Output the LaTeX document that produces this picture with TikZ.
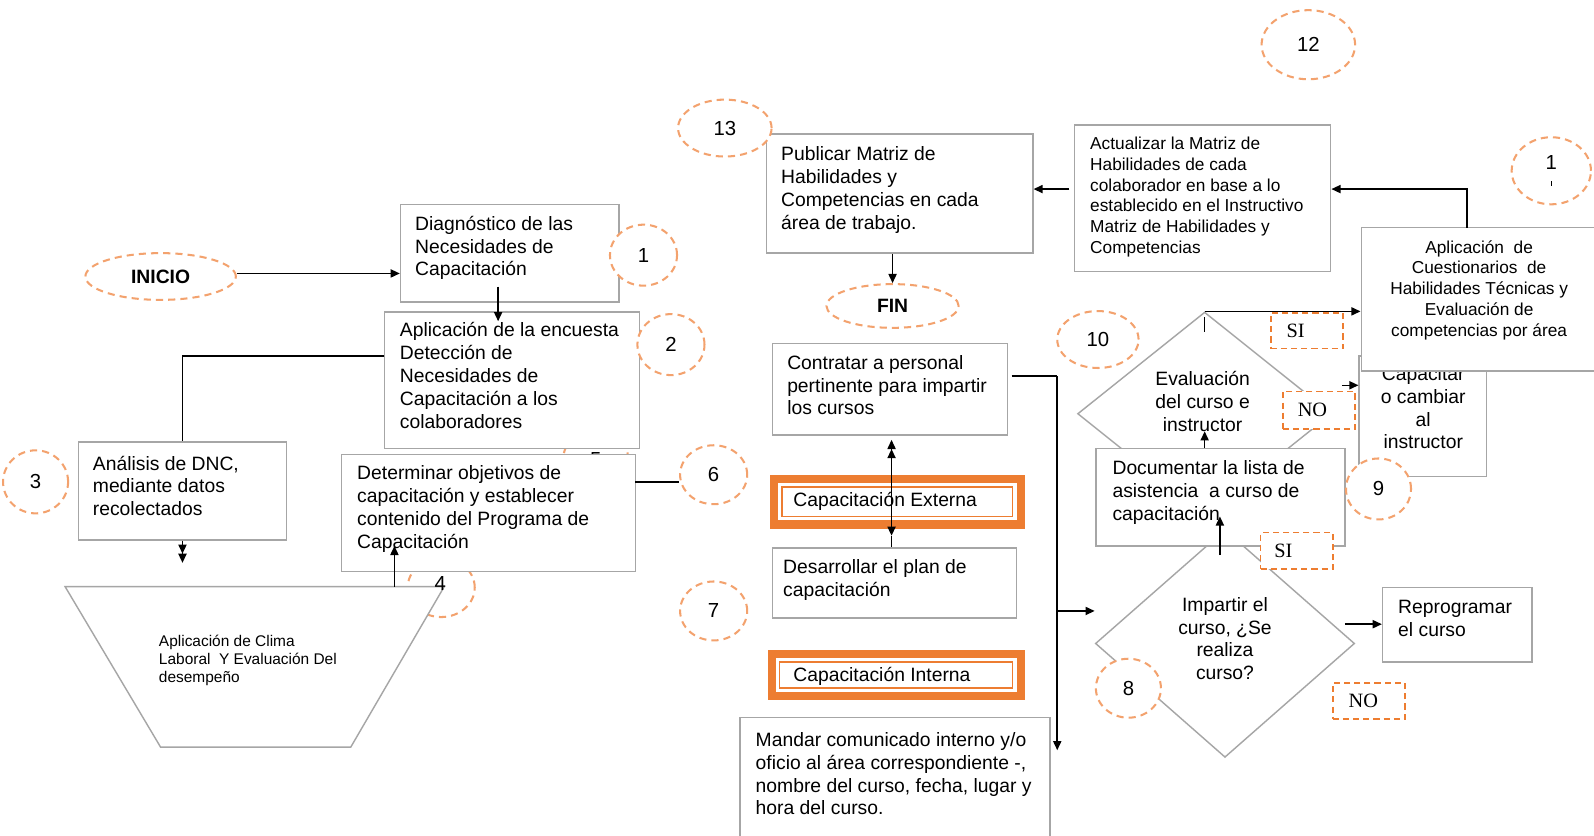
\documentclass[tikz,border=0pt]{standalone}
\usepackage{fontspec}
\setmainfont{Liberation Sans}
\newfontfamily\serifSN{Liberation Serif}
\usetikzlibrary{arrows.meta,shapes.geometric,fit}
\definecolor{borde}{HTML}{A6A6A6}
\definecolor{naranja}{HTML}{ED7D31}
\definecolor{naranjac}{HTML}{F3A26E}
\newcommand\fMain{\fontsize{9.5}{11.25}\selectfont}
\newcommand\fSmall{\fontsize{8.5}{10.3}\selectfont}
\newcommand\fTiny{\fontsize{7.6}{9}\selectfont}
\newcommand\fNum{\fontsize{10}{11}\selectfont}
\tikzset{
  pbox/.style={draw=borde, line width=0.7pt, fill=white, inner sep=0pt},
  txt/.style={align=left, inner sep=0pt, anchor=north west, font=\fMain, execute at begin node=\strut, yshift=-7pt},
  ctxt/.style={txt, align=center, anchor=north},
  stxt/.style={font=\fMain, inner sep=0pt, anchor=west},
  ring/.style={ellipse, draw=naranjac, line width=1pt, dash pattern=on 3.5pt off 2.5pt, fill=white, inner sep=0pt, font=\fNum},
  sino/.style={draw=naranja, line width=0.8pt, dash pattern=on 3pt off 2pt, fill=white, inner sep=0pt},
  lbl/.style={font=\serifSN\fontsize{10}{11}\selectfont, inner sep=0pt, anchor=west},
  arr/.style={black, line width=0.75pt, -{Triangle[length=4.5pt,width=4pt]}},
  ln/.style={black, line width=0.75pt},
  dia/.style={diamond, draw=borde, line width=0.7pt, fill=white, inner sep=0pt},
  ext/.style={draw=naranja, line width=4pt, fill=white, inner sep=0pt},
  extin/.style={draw=naranja, line width=0.75pt, inner sep=0pt},
}
\begin{document}
\begin{tikzpicture}[x=0.5pt,y=-0.5pt]
\useasboundingbox (0,0) rectangle (1568,822);
\fill[white] (0,0) rectangle (1568,822);

% circles partly hidden behind boxes
\node[ring, minimum width=33pt, minimum height=29pt] (c4) at (434,578) {};
\node[ring, minimum width=32pt, minimum height=30pt] (c5) at (586,452) {5};

% trapezoid
\draw[borde, line width=0.7pt, fill=white] (64,577) -- (437,577) -- (345,735) -- (158,735) -- cycle;
\coordinate (trap) at (388,577);
\node[txt, font=\fTiny] (ttrap) at (156,610) {Aplicación de Clima\\Laboral\ \ Y Evaluación Del\\desempeño};

% left boxes
\node[pbox, fit={(394,201) (609,297)}] (diag) {};
\node[txt] (tdiag) at (408,198) {Diagnóstico de las\\Necesidades de\\Capacitación};
\node[pbox, fit={(378,307) (629,441)}] (encuesta) {};
\node[txt] (tenc) at (393,303) {Aplicación de la encuesta\\Detección de\\Necesidades de\\Capacitación a los\\colaboradores};
\node[pbox, fit={(77,435) (282,531)}] (analisis) {};
\node[txt] (tana) at (91,434) {Análisis de DNC,\\mediante datos\\recolectados};
\node[pbox, fit={(336,447) (625,562)}] (determinar) {};
\node[txt] (tdet) at (351,444) {Determinar objetivos de\\capacitación y establecer\\contenido del Programa de\\Capacitación};
\node[font=\fNum, inner sep=0pt] (n4) at (433,574) {4};

% middle boxes
\node[pbox, fit={(754,132) (1016,249)}] (publicar) {};
\node[txt] (tpub) at (768,130) {Publicar Matriz de\\Habilidades y\\Competencias en cada\\área de trabajo.};
\node[pbox, fit={(760,338) (991,428)}] (contratar) {};
\node[txt] (tcon) at (774,335) {Contratar a personal\\pertinente para impartir\\los cursos};
\node[ext, fit={(761,471) (1004,516)}] (externa) {};
\node[extin, fit={(769,479) (996,508)}] (externain) {};
\node[stxt] (text) at (780,493) {Capacitación Externa};
\node[pbox, fit={(760,539) (1000,608)}] (desarrollar) {};
\node[txt] (tdes) at (770,536) {Desarrollar el plan de\\capacitación};
\node[ext, fit={(759,643) (1004,685)}] (interna) {};
\node[extin, fit={(767,651) (996,677)}] (internain) {};
\node[stxt] (tint) at (780,665) {Capacitación Interna};
\node[pbox, fit={(728,706) (1033,840)}] (mandar) {};
\node[txt] (tman) at (743,706) {Mandar comunicado interno y/o\\oficio al área correspondiente -,\\nombre del curso, fecha, lugar y\\hora del curso.};

% right part
\node[pbox, fit={(1057,123) (1309,267)}] (actualizar) {};
\node[txt, font=\fSmall] (tact) at (1072,120) {Actualizar la Matriz de\\Habilidades de cada\\colaborador en base a lo\\establecido en el Instructivo\\Matriz de Habilidades y\\Competencias};
\node[dia, minimum width=125pt, minimum height=100pt] (evaluacion) at (1185,407) {};
\node[ctxt] (teva) at (1183,351) {Evaluación\\del curso e\\instructor};
\node[dia, minimum width=127.5pt, minimum height=112pt] (impartir) at (1205,633) {};
\node[ctxt] (timp) at (1205,573) {Impartir el\\curso, ¿Se\\realiza\\curso?};
\node[pbox, fit={(1078,441) (1323,537)}] (documentar) {};
\node[txt] (tdoc) at (1094,439) {Documentar la lista de\\asistencia\ \ a curso de\\capacitación};
\node[pbox, fit={(1337,350) (1462,469)}] (capacitar) {};
\node[ctxt] (tcap) at (1400,346) {Capacitar\\o cambiar\\al\\instructor};
\node[pbox, fit={(1339,224) (1580,365)}] (cuestionarios) {};
\node[ctxt, font=\fSmall] (tcue) at (1455,222) {Aplicación\ \ de\\Cuestionarios\ \ de\\Habilidades Técnicas y\\Evaluación de\\competencias por área};
\node[pbox, fit={(1360,578) (1507,651)}] (reprogramar) {};
\node[txt] (trep) at (1375,576) {Reprogramar\\el curso};

% numbered circles
\node[ring, minimum width=33pt, minimum height=30pt] (c1) at (633,251) {1};
\node[ring, minimum width=33pt, minimum height=30pt] (c2) at (660,339) {2};
\node[ring, minimum width=32pt, minimum height=31pt] (c3) at (35,474) {3};
\node[ring, minimum width=33pt, minimum height=29pt] (c6) at (702,467) {6};
\node[ring, minimum width=33pt, minimum height=29pt] (c7) at (702,601) {7};
\node[ring, minimum width=32pt, minimum height=29pt] (c8) at (1110,677) {8};
\node[ring, minimum width=32pt, minimum height=30pt] (c9) at (1356,481) {9};
\node[ring, minimum width=40pt, minimum height=28pt] (c10) at (1080,334) {10};
\node[ring, minimum width=39pt, minimum height=33pt, align=center] (c11) at (1526,168) {1\\[-3pt]\rule{0.6pt}{2.5pt}};
\node[ring, minimum width=46pt, minimum height=34pt] (c12) at (1287,44) {12};
\node[ring, minimum width=46pt, minimum height=28pt] (c13) at (713,126) {13};

% start / end
\node[ring, minimum width=74pt, minimum height=23pt, font=\bfseries\fMain] (inicio) at (158,272) {INICIO};
\node[ring, minimum width=65pt, minimum height=21.5pt, font=\bfseries\fMain] (fin) at (878,301) {FIN};

% SI / NO labels
\node[sino, fit={(1250,308) (1321,343)}, label={[lbl, xshift=8pt]west:SI}] (si1) {};
\node[sino, fit={(1262,385) (1333,422)}, label={[lbl, xshift=7.5pt]west:NO}] (no1) {};
\node[sino, fit={(1240,524) (1311,560)}, label={[lbl, xshift=7pt]west:SI}] (si2) {};
\node[sino, fit={(1311,672) (1382,707)}, label={[lbl, xshift=8pt]west:NO}] (no2) {};

% connectors
\coordinate (p1) at (233,269);
\draw[arr] (p1) -- (p1 -| diag.west);
\coordinate (p2) at (490,282);
\coordinate (p2e) at (490,316);
\draw[arr] (p2) -- (p2e);
\coordinate (p3) at (378,350);
\draw[ln] (p3) -| (analisis.north);
\draw[black, line width=0.75pt, -{Triangle[length=4.5pt,width=4pt] Triangle[length=4.5pt,width=4pt]}] (analisis.south) -- ++(0,22);
\coordinate (t4e) at (388,537);
\draw[arr] (trap) -- (t4e);
\coordinate (p6) at (625,474);
\draw[ln] (p6) -- (p6 -| c6.west);
\draw[arr] (fin.north |- publicar.south) -- (fin.north);
\coordinate (q1) at (1052,186);
\draw[arr] (q1) -- (q1 -| publicar.east);
\coordinate (q2) at (1443,224);
\draw[arr] (q2) |- (actualizar.east |- q1);
\draw[arr] (evaluacion.north) -- (evaluacion.north -| cuestionarios.west);
\draw[ln] ([yshift=-3pt]evaluacion.north) -- ++(0,14);
\coordinate (n1) at (1320,379);
\draw[arr] (n1) -- (n1 -| capacitar.west);
\draw[arr] (evaluacion.south |- documentar.north) -- ++(0,-16);
\coordinate (i1) at (1200,546);
\coordinate (i1e) at (1200,508);
\draw[arr] (i1) -- (i1e);
\coordinate (r1) at (1323,614);
\draw[arr] (r1) -- (r1 -| reprogramar.west);
\coordinate (k1) at (995,370);
\coordinate (k2) at (1040,370);
\coordinate (k3) at (1040,738);
\coordinate (k4) at (1040,601);
\draw[ln] (k1) -- (k2);
\draw[arr] (k2) -- (k3);
\draw[arr] (k4) -- (k4 -| impartir.west);
\coordinate (x1) at (877,527);
\draw[ln] (desarrollar.north -| x1) -- (x1);
\draw[black, line width=0.75pt, {Triangle[length=4.5pt,width=4pt]}-{Triangle[length=4.5pt,width=4pt] Triangle[length=4.5pt,width=4pt]}] (x1) -- ([yshift=-2pt]x1 |- contratar.south);
\end{tikzpicture}
\end{document}
